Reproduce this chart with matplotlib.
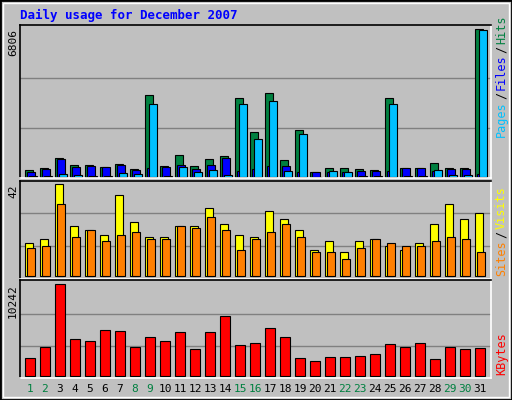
import matplotlib
matplotlib.use("Agg")
import matplotlib.pyplot as plt
from matplotlib.patches import Rectangle
import numpy as np

days = list(range(1, 32))
weekend = [1, 2, 8, 9, 15, 16, 22, 23, 29, 30]
hits = [338,430,891,568,568,476,614,384,3749,522,1029,522,845,983,3611,2089,3841,799,2182,246,430,430,384,338,3611,430,430,661,430,430,6806]
files = [246,384,845,476,522,476,568,338,430,476,568,384,568,891,292,384,522,522,246,246,246,246,292,292,292,430,430,292,384,384,154]
pages = [46,46,154,108,46,46,200,154,3380,46,476,246,338,108,3380,1767,3472,292,1997,15,292,246,46,46,3380,46,46,338,108,108,6744]
visits = [15,17,42,23,21,19,37,25,18,18,23,23,31,24,19,18,30,26,21,12,16,11,16,17,14,12,15,24,33,26,29]
sites = [13,14,33,18,21,16,19,20,17,17,23,22,27,21,12,17,20,24,18,11,11,8,13,17,15,14,14,16,18,17,11]
kbytes = [1944,3177,10242,4074,3850,5084,4971,3177,4299,3850,4859,2953,4859,6654,3402,3626,5308,4299,1944,1607,2056,2056,2168,2392,3514,3177,3626,1832,3177,2953,3065]

W, H = 512, 400
fig = plt.figure(figsize=(W/100, H/100), dpi=100, facecolor='#C0C0C0')
mono = 'DejaVu Sans Mono'
px = 15.0
x0 = np.arange(31)

def mkax(top, bottom):
    ax = fig.add_axes([20/W, (H-bottom)/H, 471/W, (bottom-top)/H])
    ax.set_facecolor('#C0C0C0')
    ax.set_xlim(-5/px, 466/px)
    for s in ['top', 'left']:
        ax.spines[s].set_color('black')
    for s in ['bottom', 'right']:
        ax.spines[s].set_color('white')
    for s in ax.spines.values():
        s.set_linewidth(1.2)
    ax.set_xticks([]); ax.set_yticks([])
    return ax

bk = dict(edgecolor='black', linewidth=0.8, align='edge')

ax1 = mkax(25, 178)
m1 = max(hits)
ax1.set_ylim(-m1*1/148, m1*152/148)
for f in (1/3, 2/3):
    ax1.axhline(m1*f, color='#808080', lw=1, zorder=0)
ax1.bar(x0, hits, 8/px, color='#008040', **bk)
ax1.bar(x0+2/px, files, 8/px, color='#0000FF', **bk)
ax1.bar(x0+4/px, pages, 8/px, color='#00C0FF', **bk)

ax2 = mkax(181, 279)
m2 = max(visits)
ax2.set_ylim(-m2*2.7/92, m2*95.3/92)
for f in (0.326, 0.685):
    ax2.axhline(m2*f, color='#808080', lw=1, zorder=0)
ax2.bar(x0, visits, 8/px, color='#FFFF00', **bk)
ax2.bar(x0+2/px, sites, 8/px, color='#FF8000', **bk)

ax3 = mkax(280, 378)
m3 = max(kbytes)
ax3.set_ylim(-m3*2.3/91.4, m3*95.7/91.4)
for f in (0.325, 0.68):
    ax3.axhline(m3*f, color='#808080', lw=1, zorder=0)
ax3.bar(x0, kbytes, 10/px, color='#FF0000', **bk)
ax3.set_xticks(x0 + 5/px)
ax3.set_xticklabels([str(d) for d in days], fontsize=8, family=mono)
ax3.tick_params(axis='x', length=0, pad=4)
for lab, d in zip(ax3.get_xticklabels(), days):
    lab.set_color('#008040' if d in weekend else 'black')

fig.text(8/W, (H-29)/H, f'{m1}', rotation=90, ha='left', va='top', fontsize=8, family=mono)
fig.text(8/W, (H-184)/H, f'{m2}', rotation=90, ha='left', va='top', fontsize=8, family=mono)
fig.text(8/W, (H-284)/H, f'{m3}', rotation=90, ha='left', va='top', fontsize=8, family=mono)

renderer = fig.canvas.get_renderer()
def rlabel(parts, ybottom):
    # parts listed from bottom to top
    y = ybottom
    for txt, col in parts:
        t = fig.text(495/W, (H-y)/H, txt, rotation=90, ha='left', va='bottom', fontsize=8.5,
                     family=mono, color=col)
        bb = t.get_window_extent(renderer)
        y -= bb.height + 2
rlabel([('Pages', '#00C0FF'), ('/', 'black'), ('Files', '#0000FF'), ('/', 'black'), ('Hits', '#008040')], 137)
rlabel([('Sites', '#FF8000'), ('/', 'black'), ('Visits', '#FFFF00')], 276)
rlabel([('KBytes', '#FF0000')], 375)

fig.text(20/W, (H-15)/H, 'Daily usage for December 2007', ha='left', va='center',
         fontsize=9, family=mono, fontweight='bold', color='#0000FF')

fig.patches.append(Rectangle((0, 0), 1, 1, transform=fig.transFigure, fill=False,
                             edgecolor='black', lw=2))
fig.patches.append(Rectangle((3/W, 3/H), 1-6/W, 1-6/H, transform=fig.transFigure, fill=False,
                             edgecolor='white', lw=1))

fig.savefig('out.png', dpi=100, facecolor=fig.get_facecolor())
